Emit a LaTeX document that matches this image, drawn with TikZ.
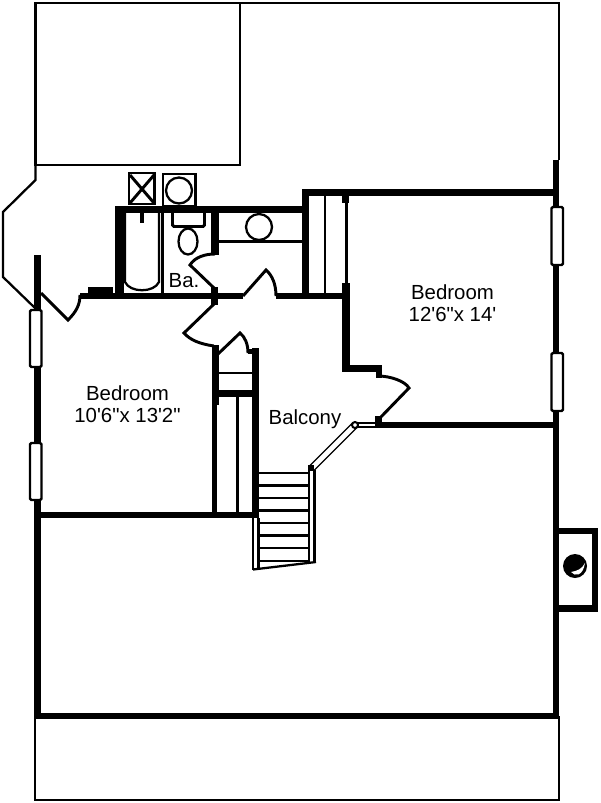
\documentclass[tikz,border=0pt]{standalone}
\usepackage{fontspec}
\newfontfamily\planfont{Liberation Sans}
\tikzset{
    wall/.style={line width=4.7pt},
    wallwide/.style={line width=5.8pt},
    partition/.style={line width=3.6pt},
    leaf/.style={line width=2.2pt},
    thinline/.style={line width=1.7pt},
    railline/.style={line width=1pt},
    fixture/.style={line width=1.7pt},
    winbox/.style={line width=1.8pt, fill=white, rounded corners=1pt},
    roomlabel/.style={font=\planfont\fontsize{15.3}{16.5}\selectfont, align=center}
}
\begin{document}
\begin{tikzpicture}[x=0.75pt, y=-0.75pt]
    \useasboundingbox (0, 0) rectangle (600, 803);

    % Roof outline
    \draw [thinline] (35.5, 165) -- (240, 165) -- (240, 3) -- (35.5, 3) -- cycle;
    \draw [thinline] (240, 3) -- (559, 3) -- (559, 160);
    \draw [thinline] (35.5, 165) -- (35.5, 180) -- (3, 212) -- (3, 277) -- (35, 308);
    \draw [thinline] (35, 716) -- (35, 800) -- (559, 800) -- (559, 716);

    % Outer walls
    \draw [wall] (37.5, 255) -- (37.5, 719);
    \draw [wall] (556, 160) -- (556, 718);
    \draw [wall] (34, 716) -- (559, 716);
    \draw [wall] (37, 515) -- (259, 515);
    \draw [wall] (302, 192.5) -- (556, 192.5);
    \draw [wall] (375, 425) -- (556, 425);

    % Chimney
    \draw [wall] (556, 531) -- (595, 531) -- (595, 608.5) -- (556, 608.5);
    \fill (575, 566) circle (12);
    \fill [white] (585, 563) .. controls (582, 569) and (577, 571) .. (571, 572) .. controls (575, 577) and (583, 576) .. (585, 563);

    % Windows
    \foreach \y in {310, 443} {
        \draw [winbox] (30, \y) rectangle (41.5, \y+57);
    }
    \foreach \y in {207, 353} {
        \draw [winbox] (551.5, \y) rectangle (563, \y+58);
    }

    % Hall wall and doors
    \draw [wall] (80, 296) -- (243, 296);
    \draw [wall] (276, 296) -- (346, 296);
    \fill (88, 287) rectangle (113, 296);
    \draw [leaf] (41, 293) -- (68, 320) .. controls (76, 312) and (80, 305) .. (80, 295);
    \draw [leaf] (243, 296) -- (266, 270) .. controls (272, 275) and (276, 284) .. (276, 296);
    \fill (211, 287) rectangle (218, 305);
    \draw [leaf] (215, 254) .. controls (205, 254) and (195, 257) .. (190, 265) -- (214, 288);
    \draw [leaf] (214, 304) -- (184, 333) .. controls (190, 340) and (200, 344) .. (214, 346);
    \draw [leaf] (218, 354) -- (240, 333) .. controls (245, 337) and (248, 344) .. (248, 353);

    % Bath
    \draw [line width=6.6pt] (119.5, 296) -- (119.5, 209.5);
    \draw [wallwide] (115, 209.5) -- (305, 209.5);
    \draw [wallwide] (215, 209.5) -- (215, 255);
    \draw [thinline] (162.5, 213) -- (162.5, 296);
    \draw [fixture] (125, 213) -- (125, 282) .. controls (130, 293) and (154, 293) .. (159, 282) -- (159, 213);
    \draw [line width=2.4pt] (142, 213) -- (142, 223);
    \draw [leaf] (172.5, 213) -- (172.5, 225) -- (174, 226.5) -- (203, 226.5) -- (204.5, 225) -- (204.5, 213);
    \draw [fixture] (188, 241.5) ellipse (9.5 and 13);
    \draw [leaf] (129, 173) rectangle (154.5, 204);
    \draw [leaf] (130, 175) -- (154, 203);
    \draw [leaf] (154, 175) -- (130, 203);
    \draw [leaf] (163, 174) rectangle (195.5, 206);
    \draw [fixture] (179, 190.5) circle (13);
    \node (bathlabel) [roomlabel] at (184, 281) {Ba.};

    % Laundry
    \draw [fixture] (218, 241.5) -- (302, 241.5);
    \draw [fixture] (259, 227) circle (13);

    % Closet
    \draw [wallwide] (305.5, 192.5) -- (305.5, 296);
    \draw [thinline] (325, 196) -- (325, 293);
    \draw [wallwide] (345.5, 196) -- (345.5, 203);
    \draw [line width=2.2pt] (346.5, 203) -- (346.5, 284);
    \draw [wallwide] (346, 283) -- (346, 368.5) -- (382, 368.5);
    \fill (376, 366) rectangle (382, 378);
    \draw [leaf] (378, 376) .. controls (390, 376) and (405, 381) .. (409, 388) -- (378, 420);
    \fill (375, 416) rectangle (382, 427);

    % Balcony rail
    \draw [railline] (357, 427) -- (375, 427);
    \draw [railline] (357, 423) -- (375, 423);
    \draw [railline] (353, 422.5) -- (310, 465.5);
    \draw [railline] (357.5, 427) -- (314.5, 470);
    \fill (308, 465) rectangle (314, 471);
    \draw [line width=1.5pt, fill=white] (355, 425) circle (3);
    \node (balconylabel) [roomlabel] at (305, 419) {Balcony};

    % Stair closet
    \draw [wallwide] (215.5, 345) -- (215.5, 405);
    \draw [partition] (214.5, 405) -- (214.5, 518);
    \draw [wallwide] (255.5, 348) -- (255.5, 518);
    \fill (248, 349) rectangle (259, 354);
    \draw [thinline] (219, 373) -- (252, 373);
    \draw [wallwide] (217, 393.5) -- (253, 393.5);
    \draw [leaf] (237.5, 397) -- (237.5, 513);

    % Stairs
    \foreach \y in {473, 485.5, 498, 510.5, 523, 535.5, 548, 561} {
        \draw [thinline] (258, \y) -- (310, \y);
    }
    \draw [thinline] (253, 518) -- (253, 570);
    \draw [thinline] (258.5, 518) -- (258.5, 570);
    \draw [thinline] (309, 467) -- (309, 563);
    \draw [thinline] (314.5, 470) -- (314.5, 563);
    \draw [thinline] (253, 569.5) -- (316, 562);

    % Bedrooms
    \node (bedroomwest) [roomlabel] at (127.5, 404) {Bedroom\\10'6"x 13'2"};
    \node (bedroomeast) [roomlabel] at (452.5, 303) {Bedroom\\12'6"x 14'};
\end{tikzpicture}
\end{document}
